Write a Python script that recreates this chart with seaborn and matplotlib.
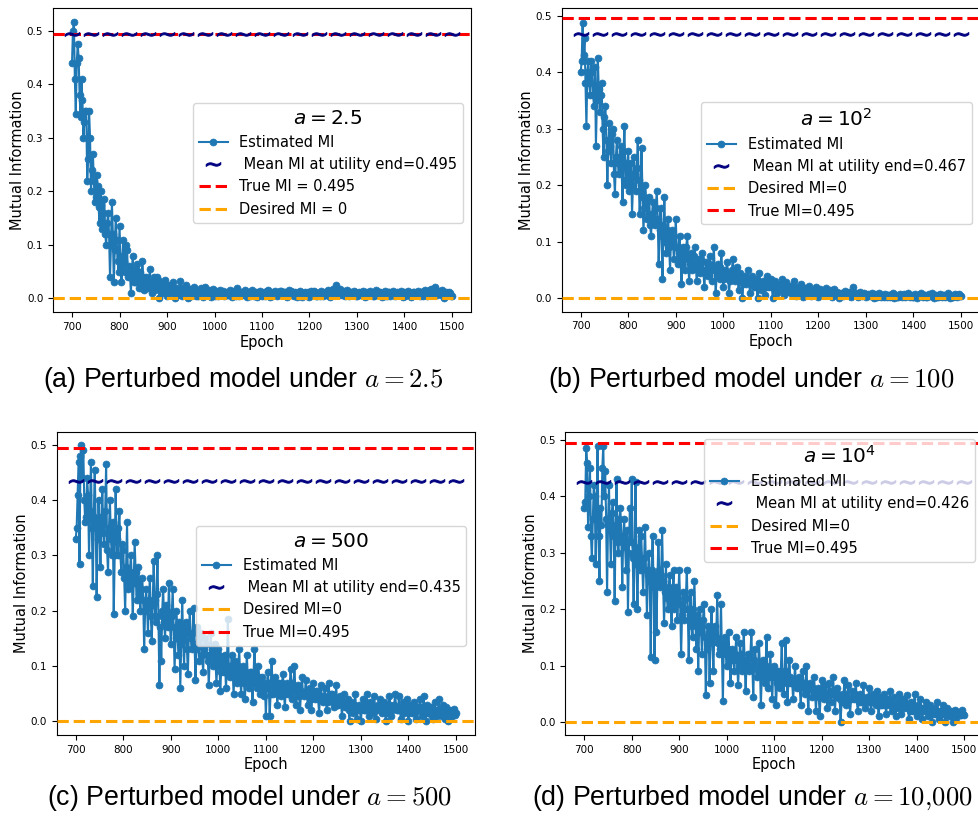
import numpy as np
import pandas as pd
import matplotlib
matplotlib.use("Agg")
import matplotlib.pyplot as plt
import seaborn as sns

# ---------------- data ----------------
epochs = list(range(700, 1501, 2))
mean_epochs = list(range(700, 1501, 40))

mi_a = [
    0.44, 0.50, 0.517, 0.41, 0.345, 0.44, 0.475, 0.45, 0.38, 0.34, 0.41, 0.37, 0.30, 0.33, 0.35, 0.35, 0.22, 0.26, 0.35, 0.30,
    0.20, 0.24, 0.27, 0.22, 0.18, 0.19, 0.23, 0.21, 0.17, 0.14, 0.20, 0.175, 0.13, 0.16, 0.185, 0.12, 0.10, 0.14, 0.16, 0.12,
    0.04, 0.10, 0.18, 0.12, 0.03, 0.09, 0.15, 0.11, 0.07, 0.05, 0.135, 0.08, 0.03, 0.06, 0.11, 0.07, 0.05, 0.10, 0.09, 0.04,
    0.06, 0.045, 0.01, 0.05, 0.08, 0.03, 0.03, 0.055, 0.065, 0.04, 0.02, 0.035, 0.05, 0.02, 0.07, 0.04, 0.015, 0.03, 0.04, 0.025,
    0.02, 0.03, 0.055, 0.02, 0.01, 0.03, 0.04, 0.015, 0.025, 0.04, 0.035, 0.02, 0.0, 0.025, 0.03, 0.01, 0.015, 0.025, 0.035, 0.02,
    0.005, 0.02, 0.025, 0.01, 0.015, 0.022, 0.03, 0.012, 0.0, 0.018, 0.02, 0.006, 0.01, 0.015, 0.032, 0.02, 0.005, 0.012, 0.02, 0.01,
    0.025, 0.012, 0.0, 0.01, 0.018, 0.005, 0.01, 0.016, 0.022, 0.012, 0.004, 0.01, 0.015, 0.005, 0.008, 0.012, 0.02, 0.009, 0.002, 0.014,
    0.022, 0.012, 0.008, 0.01, 0.015, 0.006, 0.003, 0.012, 0.018, 0.008, 0.01, 0.004, 0.014, 0.01, 0.005, 0.012, 0.016, 0.006, 0.009, 0.013,
    0.004, 0.009, 0.012, 0.006, 0.007, 0.011, 0.015, 0.008, 0.002, 0.006, 0.013, 0.01, 0.009, 0.004, 0.02, 0.01, 0.005, 0.012, 0.011, 0.007,
    0.008, 0.011, 0.015, 0.007, 0.003, 0.01, 0.012, 0.005, 0.006, 0.013, 0.016, 0.008, 0.004, 0.009, 0.011, 0.003, 0.008, 0.012, 0.014, 0.006,
    0.005, 0.01, 0.012, 0.004, 0.009, 0.013, 0.016, 0.007, 0.003, 0.008, 0.011, 0.005, 0.007, 0.012, 0.014, 0.009, 0.004, 0.006, 0.01, 0.013,
    0.013, 0.008, 0.006, 0.012, 0.011, 0.005, 0.002, 0.01, 0.015, 0.009, 0.008, 0.013, 0.012, 0.006, 0.004, 0.011, 0.01, 0.003, 0.007, 0.012,
    0.013, 0.007, 0.003, 0.009, 0.01, 0.012, 0.006, 0.004, 0.012, 0.008, 0.002, 0.011, 0.014, 0.006, 0.008, 0.013, 0.011, 0.004, 0.005, 0.01,
    0.009, 0.005, 0.013, 0.008, 0.004, 0.01, 0.011, 0.006, 0.007, 0.012, 0.015, 0.008, 0.003, 0.009, 0.012, 0.018, 0.016, 0.01, 0.024, 0.014,
    0.01, 0.006, 0.017, 0.011, 0.006, 0.009, 0.013, 0.004, 0.008, 0.012, 0.015, 0.007, 0.004, 0.01, 0.012, 0.006, 0.007, 0.013, 0.011, 0.005,
    0.004, 0.01, 0.012, 0.006, 0.008, 0.011, 0.014, 0.007, 0.003, 0.009, 0.011, 0.005, 0.006, 0.012, 0.013, 0.008, 0.009, 0.004, 0.005, 0.012,
    0.015, 0.009, 0.007, 0.011, 0.012, 0.006, 0.002, 0.008, 0.01, 0.005, 0.013, 0.009, 0.005, 0.012, 0.011, 0.004, 0.008, 0.01, 0.014, 0.006,
    0.004, 0.009, 0.012, 0.006, 0.007, 0.01, 0.013, 0.005, 0.003, 0.011, 0.01, 0.004, 0.006, 0.012, 0.014, 0.008, 0.009, 0.003, 0.005, 0.011,
    0.012, 0.006, 0.007, 0.01, 0.014, 0.008, 0.004, 0.011, 0.011, 0.005, 0.008, 0.013, 0.015, 0.009, 0.005, 0.012, 0.013, 0.016, 0.018, 0.01,
    0.01, 0.017, 0.021, 0.012, 0.006, 0.01, 0.014, 0.008, 0.009, 0.013, 0.016, 0.004, 0.0, 0.009, 0.012, 0.006, 0.007, 0.011, 0.01, 0.004,
    0.005]

mi_b = [
    0.40, 0.42, 0.487, 0.43, 0.46, 0.38, 0.305, 0.40, 0.42, 0.38, 0.36, 0.42, 0.40, 0.36, 0.34, 0.41, 0.27, 0.35, 0.425, 0.37,
    0.33, 0.36, 0.38, 0.30, 0.25, 0.32, 0.34, 0.28, 0.20, 0.26, 0.31, 0.27, 0.24, 0.29, 0.30, 0.22, 0.185, 0.25, 0.28, 0.24,
    0.22, 0.25, 0.27, 0.23, 0.17, 0.26, 0.305, 0.21, 0.20, 0.24, 0.26, 0.19, 0.22, 0.24, 0.15, 0.20, 0.25, 0.22, 0.19, 0.23,
    0.28, 0.21, 0.15, 0.19, 0.265, 0.18, 0.12, 0.16, 0.20, 0.17, 0.14, 0.15, 0.18, 0.13, 0.11, 0.15, 0.17, 0.14, 0.13, 0.16,
    0.19, 0.14, 0.06, 0.12, 0.16, 0.11, 0.035, 0.13, 0.18, 0.10, 0.08, 0.12, 0.14, 0.09, 0.05, 0.11, 0.12, 0.10, 0.07, 0.09,
    0.14, 0.09, 0.06, 0.08, 0.11, 0.07, 0.025, 0.06, 0.09, 0.08, 0.05, 0.09, 0.11, 0.07, 0.03, 0.06, 0.08, 0.05, 0.06, 0.075,
    0.09, 0.06, 0.03, 0.05, 0.07, 0.055, 0.045, 0.07, 0.08, 0.05, 0.02, 0.045, 0.065, 0.05, 0.04, 0.06, 0.075, 0.05, 0.03, 0.055,
    0.09, 0.05, 0.01, 0.04, 0.06, 0.045, 0.035, 0.055, 0.08, 0.04, 0.02, 0.035, 0.05, 0.045, 0.065, 0.04, 0.01, 0.03, 0.045, 0.05,
    0.07, 0.04, 0.03, 0.045, 0.055, 0.035, 0.015, 0.03, 0.045, 0.04, 0.0, 0.025, 0.04, 0.03, 0.025, 0.035, 0.05, 0.03, 0.01, 0.025,
    0.04, 0.03, 0.02, 0.025, 0.035, 0.02, 0.0, 0.03, 0.045, 0.025, 0.015, 0.02, 0.03, 0.025, 0.005, 0.02, 0.04, 0.03, 0.02, 0.025,
    0.035, 0.02, 0.0, 0.018, 0.03, 0.022, 0.01, 0.02, 0.025, 0.015, 0.015, 0.022, 0.035, 0.02, 0.005, 0.018, 0.028, 0.015, 0.012, 0.02,
    0.022, 0.015, 0.008, 0.018, 0.03, 0.014, 0.004, 0.012, 0.02, 0.016, 0.012, 0.018, 0.025, 0.01, 0.002, 0.013, 0.018, 0.008, 0.01, 0.015,
    0.022, 0.01, 0.004, 0.012, 0.015, 0.011, 0.008, 0.014, 0.02, 0.009, 0.002, 0.01, 0.016, 0.012, 0.01, 0.006, 0.006, 0.013, 0.018, 0.009,
    0.008, 0.011, 0.014, 0.007, 0.003, 0.01, 0.016, 0.009, 0.006, 0.008, 0.012, 0.006, 0.0, 0.007, 0.01, 0.005, 0.004, 0.009, 0.013, 0.006,
    0.006, 0.009, 0.011, 0.005, 0.002, 0.008, 0.02, 0.01, 0.005, 0.007, 0.01, 0.004, 0.003, 0.008, 0.012, 0.006, 0.004, 0.007, 0.009, 0.005,
    0.002, 0.006, 0.008, 0.005, 0.004, 0.007, 0.01, 0.004, 0.001, 0.005, 0.007, 0.003, 0.003, 0.006, 0.009, 0.004, 0.002, 0.005, 0.006, 0.003,
    0.008, 0.004, 0.002, 0.005, 0.006, 0.003, 0.004, 0.007, 0.009, 0.004, 0.001, 0.005, 0.005, 0.003, 0.003, 0.006, 0.008, 0.004, 0.002, 0.005,
    0.007, 0.003, 0.004, 0.006, 0.01, 0.005, 0.002, 0.004, 0.006, 0.003, 0.003, 0.006, 0.008, 0.004, 0.001, 0.004, 0.005, 0.007, 0.009, 0.004,
    0.003, 0.005, 0.006, 0.003, 0.002, 0.005, 0.008, 0.004, 0.004, 0.007, 0.01, 0.005, 0.001, 0.004, 0.005, 0.003, 0.003, 0.006, 0.007, 0.004,
    0.002, 0.005, 0.006, 0.003, 0.004, 0.006, 0.009, 0.004, 0.001, 0.004, 0.005, 0.003, 0.003, 0.006, 0.008, 0.004, 0.002, 0.005, 0.007, 0.004,
    0.004]

mi_c = [
    0.33, 0.35, 0.41, 0.47, 0.285, 0.48, 0.50, 0.44, 0.49, 0.40, 0.36, 0.37, 0.44, 0.41, 0.30, 0.38, 0.47, 0.35, 0.245, 0.37,
    0.455, 0.36, 0.225, 0.33, 0.40, 0.35, 0.28, 0.37, 0.42, 0.34, 0.32, 0.38, 0.465, 0.31, 0.27, 0.35, 0.40, 0.33, 0.30, 0.36,
    0.195, 0.30, 0.42, 0.33, 0.30, 0.35, 0.38, 0.30, 0.27, 0.32, 0.31, 0.26, 0.20, 0.28, 0.36, 0.24, 0.25, 0.27, 0.30, 0.26,
    0.19, 0.25, 0.325, 0.27, 0.22, 0.25, 0.28, 0.23, 0.20, 0.24, 0.26, 0.22, 0.13, 0.20, 0.24, 0.21, 0.16, 0.22, 0.26, 0.19,
    0.145, 0.21, 0.29, 0.22, 0.18, 0.23, 0.30, 0.19, 0.065, 0.17, 0.11, 0.20, 0.24, 0.18, 0.15, 0.21, 0.20, 0.17, 0.25, 0.19,
    0.14, 0.19, 0.24, 0.17, 0.095, 0.15, 0.20, 0.16, 0.12, 0.18, 0.06, 0.14, 0.22, 0.15, 0.10, 0.17, 0.18, 0.13, 0.085, 0.16,
    0.20, 0.15, 0.13, 0.16, 0.205, 0.14, 0.075, 0.13, 0.17, 0.14, 0.11, 0.15, 0.16, 0.12, 0.09, 0.13, 0.15, 0.14, 0.12, 0.11,
    0.065, 0.12, 0.16, 0.13, 0.10, 0.12, 0.14, 0.11, 0.07, 0.10, 0.13, 0.12, 0.055, 0.09, 0.11, 0.10, 0.09, 0.12, 0.06, 0.09,
    0.185, 0.10, 0.08, 0.09, 0.12, 0.10, 0.05, 0.08, 0.11, 0.09, 0.07, 0.10, 0.13, 0.08, 0.05, 0.09, 0.10, 0.07, 0.04, 0.08,
    0.12, 0.08, 0.06, 0.09, 0.09, 0.07, 0.035, 0.08, 0.13, 0.09, 0.07, 0.06, 0.10, 0.08, 0.05, 0.07, 0.08, 0.06, 0.045, 0.07,
    0.01, 0.06, 0.09, 0.07, 0.01, 0.05, 0.11, 0.07, 0.05, 0.06, 0.08, 0.07, 0.03, 0.05, 0.07, 0.06, 0.045, 0.07, 0.085, 0.05,
    0.025, 0.06, 0.07, 0.05, 0.05, 0.06, 0.095, 0.07, 0.04, 0.055, 0.10, 0.06, 0.03, 0.05, 0.065, 0.045, 0.02, 0.055, 0.08, 0.05,
    0.045, 0.05, 0.075, 0.055, 0.03, 0.045, 0.06, 0.04, 0.02, 0.05, 0.07, 0.045, 0.04, 0.055, 0.055, 0.04, 0.015, 0.045, 0.065, 0.04,
    0.035, 0.045, 0.06, 0.04, 0.02, 0.035, 0.07, 0.045, 0.04, 0.05, 0.05, 0.035, 0.025, 0.04, 0.065, 0.03, 0.03, 0.04, 0.045, 0.035,
    0.01, 0.03, 0.05, 0.025, 0.025, 0.035, 0.04, 0.02, 0.0, 0.03, 0.035, 0.025, 0.015, 0.03, 0.05, 0.02, 0.005, 0.025, 0.03, 0.02,
    0.0, 0.025, 0.04, 0.02, 0.02, 0.03, 0.05, 0.025, 0.01, 0.02, 0.035, 0.03, 0.025, 0.015, 0.045, 0.025, 0.005, 0.02, 0.03, 0.025,
    0.04, 0.025, 0.015, 0.02, 0.035, 0.025, 0.0, 0.015, 0.03, 0.02, 0.045, 0.03, 0.01, 0.02, 0.025, 0.03, 0.05, 0.025, 0.02, 0.02,
    0.045, 0.02, 0.005, 0.025, 0.035, 0.015, 0.02, 0.025, 0.04, 0.02, 0.0, 0.015, 0.03, 0.02, 0.015, 0.025, 0.035, 0.015, 0.005, 0.02,
    0.025, 0.02, 0.04, 0.025, 0.01, 0.02, 0.045, 0.015, 0.0, 0.02, 0.03, 0.015, 0.015, 0.02, 0.025, 0.01, 0.005, 0.02, 0.035, 0.015,
    0.01, 0.02, 0.04, 0.015, 0.02, 0.01, 0.03, 0.015, 0.005, 0.02, 0.025, 0.01, 0.0, 0.015, 0.02, 0.01, 0.01, 0.015, 0.022, 0.012,
    0.015]

mi_d = [
    0.38, 0.39, 0.485, 0.46, 0.345, 0.40, 0.45, 0.33, 0.29, 0.36, 0.42, 0.40, 0.28, 0.37, 0.49, 0.33, 0.25, 0.38, 0.35, 0.45,
    0.49, 0.40, 0.445, 0.36, 0.23, 0.35, 0.42, 0.34, 0.28, 0.37, 0.39, 0.33, 0.215, 0.35, 0.43, 0.32, 0.30, 0.36, 0.38, 0.33,
    0.24, 0.33, 0.36, 0.31, 0.27, 0.34, 0.195, 0.30, 0.38, 0.32, 0.43, 0.29, 0.21, 0.31, 0.425, 0.28, 0.20, 0.30, 0.34, 0.27,
    0.33, 0.28, 0.23, 0.29, 0.345, 0.27, 0.19, 0.26, 0.30, 0.25, 0.115, 0.27, 0.33, 0.24, 0.11, 0.26, 0.16, 0.25, 0.32, 0.27,
    0.24, 0.26, 0.34, 0.25, 0.175, 0.23, 0.28, 0.22, 0.20, 0.24, 0.26, 0.21, 0.17, 0.23, 0.27, 0.20, 0.22, 0.24, 0.18, 0.22,
    0.27, 0.21, 0.12, 0.19, 0.23, 0.18, 0.20, 0.22, 0.27, 0.20, 0.11, 0.19, 0.23, 0.17, 0.15, 0.20, 0.25, 0.18, 0.13, 0.19,
    0.09, 0.17, 0.20, 0.16, 0.12, 0.18, 0.21, 0.15, 0.048, 0.13, 0.17, 0.16, 0.07, 0.15, 0.20, 0.14, 0.09, 0.16, 0.17, 0.15,
    0.225, 0.14, 0.12, 0.13, 0.21, 0.12, 0.037, 0.14, 0.15, 0.12, 0.10, 0.13, 0.16, 0.11, 0.07, 0.12, 0.13, 0.11, 0.09, 0.12,
    0.15, 0.11, 0.065, 0.10, 0.14, 0.12, 0.09, 0.11, 0.16, 0.10, 0.055, 0.11, 0.12, 0.09, 0.10, 0.12, 0.16, 0.10, 0.045, 0.11,
    0.13, 0.10, 0.08, 0.09, 0.14, 0.10, 0.03, 0.08, 0.11, 0.09, 0.07, 0.10, 0.15, 0.08, 0.06, 0.09, 0.12, 0.08, 0.04, 0.09,
    0.10, 0.08, 0.03, 0.07, 0.09, 0.08, 0.06, 0.09, 0.14, 0.07, 0.05, 0.08, 0.145, 0.09, 0.035, 0.07, 0.11, 0.08, 0.07, 0.07,
    0.04, 0.07, 0.10, 0.065, 0.06, 0.07, 0.08, 0.06, 0.03, 0.065, 0.09, 0.07, 0.05, 0.06, 0.10, 0.055, 0.02, 0.065, 0.07, 0.06,
    0.045, 0.06, 0.08, 0.055, 0.02, 0.05, 0.06, 0.045, 0.01, 0.05, 0.075, 0.055, 0.04, 0.05, 0.065, 0.045, 0.025, 0.05, 0.07, 0.055,
    0.035, 0.05, 0.08, 0.055, 0.02, 0.045, 0.06, 0.05, 0.045, 0.04, 0.0, 0.035, 0.05, 0.045, 0.075, 0.05, 0.03, 0.045, 0.065, 0.04,
    0.015, 0.04, 0.055, 0.045, 0.04, 0.05, 0.07, 0.04, 0.02, 0.035, 0.05, 0.045, 0.035, 0.04, 0.065, 0.035, 0.025, 0.04, 0.045, 0.035,
    0.06, 0.04, 0.02, 0.035, 0.05, 0.04, 0.035, 0.03, 0.055, 0.035, 0.01, 0.03, 0.045, 0.04, 0.03, 0.035, 0.05, 0.03, 0.015, 0.035,
    0.04, 0.03, 0.055, 0.035, 0.02, 0.03, 0.045, 0.025, 0.01, 0.03, 0.035, 0.025, 0.05, 0.03, 0.015, 0.028, 0.04, 0.025, 0.03, 0.03,
    0.048, 0.025, 0.005, 0.02, 0.035, 0.03, 0.02, 0.025, 0.05, 0.02, 0.01, 0.025, 0.03, 0.02, 0.04, 0.025, 0.005, 0.02, 0.025, 0.022,
    0.035, 0.02, 0.01, 0.018, 0.03, 0.02, 0.0, 0.015, 0.025, 0.02, 0.015, 0.018, 0.035, 0.015, 0.005, 0.02, 0.02, 0.015, 0.03, 0.018,
    0.0, 0.015, 0.025, 0.012, 0.01, 0.015, 0.02, 0.01, 0.0, 0.012, 0.022, 0.015, 0.008, 0.012, 0.018, 0.015, 0.012, 0.012, 0.022, 0.015,
    0.012]

mean_mi = [0.495, 0.467, 0.435, 0.426]
true_mi = 0.495
legend_titles = [r"$a = 2.5$", r"$a = 10^2$", r"$a = 500$", r"$a = 10^4$"]
true_labels = ["True MI = 0.495", "True MI=0.495", "True MI=0.495", "True MI=0.495"]
desired_labels = ["Desired MI = 0", "Desired MI=0", "Desired MI=0", "Desired MI=0"]
captions = [r"(a) Perturbed model under $a = 2.5$",
            r"(b) Perturbed model under $a = 100$",
            r"(c) Perturbed model under $a = 500$",
            r"(d) Perturbed model under $a = 10{,}000$"]
series = [mi_a, mi_b, mi_c, mi_d]
for s in series:
    assert len(s) == len(epochs), (len(s), len(epochs))

# ---------------- layout (pixels) ----------------
W, H = 979, 816
fig = plt.figure(figsize=(W / 100, H / 100), dpi=100)

def fr(l, t, r, b):
    return [l / W, 1 - b / H, (r - l) / W, (b - t) / H]

axes_px = [(53, 8, 471, 312), (561.7, 8.3, 980, 311.7),
           (56.7, 431.7, 475, 735), (565.3, 431.7, 983, 735)]
ylims = [(-0.0256, 0.543), (-0.0237, 0.513), (-0.0248, 0.524), (-0.023, 0.5147)]
leg_pos = [(192.7, 102.7), (701, 101.7), (196, 525.7), (704, 439)]
cap_pos = [(43, 380), (548, 380), (47, 798), (532, 798)]

blue = "#1f77b4"
for i in range(4):
    ax = fig.add_axes(fr(*axes_px[i]))
    df = pd.DataFrame({"Epoch": epochs, "MI": series[i]})
    sns.lineplot(data=df, x="Epoch", y="MI", ax=ax, color=blue, marker="o",
                 markersize=5.0, markeredgecolor=blue, markeredgewidth=0.5,
                 linewidth=1.5, label="Estimated MI", zorder=2)
    h_mean, = ax.plot(mean_epochs, [mean_mi[i]] * len(mean_epochs),
                      linestyle="None", marker=r"$\sim$", markersize=10.5,
                      markeredgewidth=0.7, color="navy", zorder=4,
                      label=" Mean MI at utility end=%.3f" % mean_mi[i])
    h_true = ax.axhline(true_mi, color="red", linestyle="--", linewidth=2.2,
                        zorder=3, label=true_labels[i])
    h_des = ax.axhline(0, color="orange", linestyle="--", linewidth=2.2,
                       zorder=3, label=desired_labels[i])
    h_est = ax.get_lines()[0]
    if i == 0:
        handles = [h_est, h_mean, h_true, h_des]
    else:
        handles = [h_est, h_mean, h_des, h_true]
    ax.set_xlim(660, 1540)
    ax.set_ylim(*ylims[i])
    ax.set_xticks(range(700, 1501, 100))
    ax.set_yticks([0.0, 0.1, 0.2, 0.3, 0.4, 0.5])
    ax.tick_params(labelsize=7.5)
    ax.set_xlabel("Epoch", fontsize=10.5, labelpad=2)
    ax.set_ylabel("Mutual Information", fontsize=10.5, labelpad=1)
    lx, ly = leg_pos[i]
    leg = ax.legend(handles=handles, labels=[h.get_label() for h in handles],
                    title=legend_titles[i], title_fontsize=14.5, fontsize=10.5,
                    loc="upper left", bbox_to_anchor=(lx / W, 1 - ly / H),
                    bbox_transform=fig.transFigure, borderaxespad=0)
    leg.set_zorder(10)
    cx, cy = cap_pos[i]
    fig.text(cx / W, 1 - cy / H, captions[i], ha="left", va="center",
             fontsize=19.3, family="Liberation Sans", math_fontfamily="cm")

fig.savefig("out.png", dpi=100)
